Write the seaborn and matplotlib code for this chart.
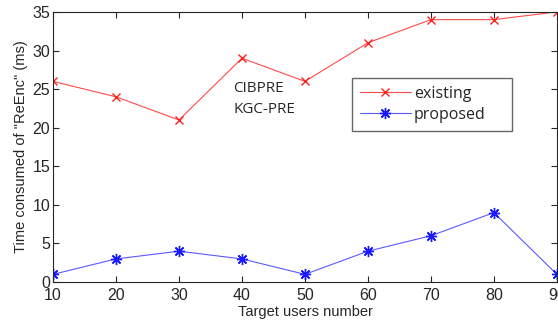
import matplotlib
matplotlib.use('Agg')
import matplotlib.pyplot as plt
import seaborn as sns
import pandas as pd

# data
users = [10, 20, 30, 40, 50, 60, 70, 80, 90]
existing = [26, 24, 21, 29, 26, 31, 34, 34, 35]
proposed = [1, 3, 4, 3, 1, 4, 6, 9, 1]

df = pd.DataFrame({'users': users, 'existing': existing, 'proposed': proposed})

sns.set_style('ticks')
plt.rcParams['font.family'] = ['Liberation Sans', 'DejaVu Sans']

fig = plt.figure(figsize=(5.58, 3.22), dpi=100)
ax = fig.add_axes([0.095, 0.124, 0.903, 0.839])

sns.lineplot(data=df, x='users', y='existing', ax=ax, color='#ff4a4a', lw=0.8,
             marker='x', markersize=6, markeredgewidth=1.0,
             markeredgecolor='#ff2020', label='existing')
sns.lineplot(data=df, x='users', y='proposed', ax=ax, color='#5a5aff', lw=0.8,
             marker=(8, 2, 0), markersize=8, markeredgewidth=1.0,
             markeredgecolor='#1a1aff', label='proposed')

ax.set_xlim(10, 90)
ax.set_ylim(0, 35)
ax.set_xticks(users)
ax.set_yticks(range(0, 36, 5))
ax.tick_params(direction='in', top=True, right=True, labelsize=11.5, length=4)
ax.tick_params(axis='x', pad=4)
ax.tick_params(axis='y', pad=2)
for s in ax.spines.values():
    s.set_linewidth(0.8)

ax.set_xlabel('Target users number', fontsize=10.5, labelpad=2)
ax.set_ylabel('Time consumed of "ReEnc" (ms)', fontsize=10.5, labelpad=3)

ax.text(38.6, 25.1, 'CIBPRE', fontsize=11, family='Open Sans', va='center')
ax.text(38.6, 22.4, 'KGC-PRE', fontsize=11, family='Open Sans', va='center')

leg = ax.legend(loc='upper left', bbox_to_anchor=(0.593, 0.555, 0.317, 0.2),
                mode='expand', fancybox=False,
                frameon=True, edgecolor='#404040', prop={'family': 'Open Sans', 'size': 11.5},
                handlelength=3.2, borderpad=0.5, labelspacing=0.3, handletextpad=0.2,
                borderaxespad=0)
leg.get_frame().set_linewidth(1.0)

fig.savefig('out.png', dpi=100)
